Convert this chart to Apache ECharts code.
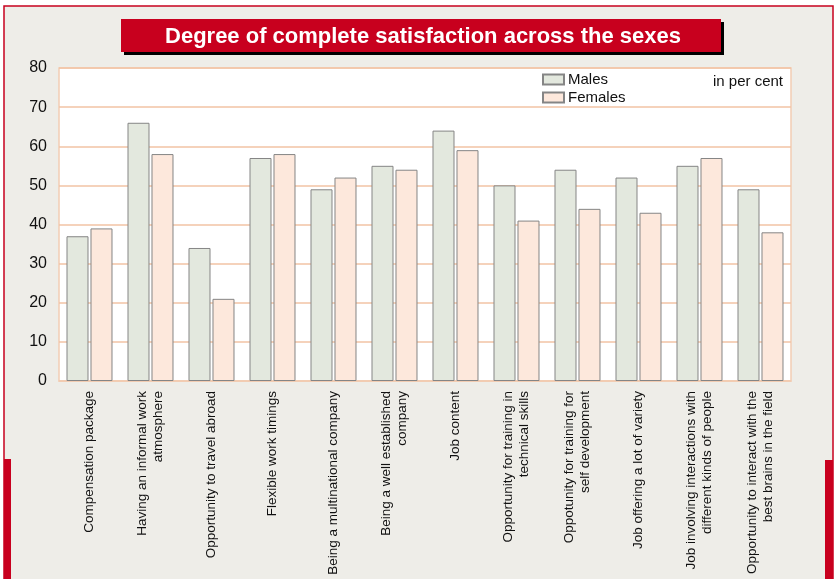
<!DOCTYPE html>
<html><head><meta charset="utf-8">
<script src="https://cdn.jsdelivr.net/npm/echarts@6/dist/echarts.min.js"></script>
<style>html,body{margin:0;padding:0;background:#fff}#c{width:840px;height:579px}</style>
</head><body><div id="c"></div>
<script>
const categories = [
  "Compensation package",
  "Having an informal work\natmosphere",
  "Opportunity to travel abroad",
  "Flexible work timings",
  "Being a multinational company",
  "Being a well established\ncompany",
  "Job content",
  "Opportunity for training in\ntechnical skills",
  "Oppotunity for training for\nself development",
  "Job offering a lot of variety",
  "Job involving interactions with\ndifferent kinds of people",
  "Opportunity to interact with the\nbest brains in the field"
];
const males   = [37, 66, 34, 57, 49, 55, 64, 50, 54, 52, 55, 49];
const females = [39, 58, 21, 58, 52, 54, 59, 41, 44, 43, 57, 38];
const titleText = "Degree of complete satisfaction across the sexes";
const unitText = "in per cent";

const FONT = "'Liberation Sans Narrow','Arial Narrow','Liberation Sans',Arial,sans-serif";
const RED = "#C8001E";
const chart = echarts.init(document.getElementById('c'), null, {renderer: 'canvas'});
chart.setOption({
  backgroundColor: '#fff',
  animation: false,
  graphic: [
    {type: 'rect', z: -10, shape: {x: 4, y: 6, width: 829, height: 580}, style: {fill: '#EEEDE8', stroke: RED, lineWidth: 1.5}},
    {type: 'rect', z: -9, shape: {x: 4, y: 459, width: 7, height: 130}, style: {fill: RED}},
    {type: 'rect', z: -9, shape: {x: 825, y: 460, width: 8, height: 130}, style: {fill: RED}},
    {type: 'rect', z: 1, shape: {x: 124, y: 22, width: 600, height: 33}, style: {fill: '#000'}},
    {type: 'rect', z: 2, shape: {x: 121, y: 19, width: 600, height: 33}, style: {fill: RED}},
    {type: 'text', z: 3, x: 423, y: 37, style: {text: titleText, fill: '#fff', font: "bold 22px " + FONT, align: 'center', verticalAlign: 'middle'}},
    {type: 'text', z: 3, x: 783, y: 82, style: {text: unitText, fill: '#111', font: "15px " + FONT, align: 'right', verticalAlign: 'middle'}}
  ],
  legend: {
    orient: 'vertical', left: 537, top: 67, itemWidth: 21, itemHeight: 10, itemGap: 3,
    icon: 'rect',
    textStyle: {fontFamily: FONT, fontSize: 15, color: '#111', padding: [0, 0, 0, -1]},
    data: ['Males', 'Females']
  },
  grid: {left: 59, right: 49, top: 68, bottom: 198, outerBoundsMode: 'none', containLabel: false,
         show: true, backgroundColor: '#fff', borderColor: '#F2CDB4', borderWidth: 1.5},
  xAxis: {
    type: 'category', data: categories,
    axisLine: {show: true, lineStyle: {color: '#F2CDB4', width: 1.5}},
    axisTick: {show: false},
    axisLabel: {rotate: 90, interval: 0, margin: 10, fontFamily: FONT, fontSize: 13.5, lineHeight: 16, color: '#111'}
  },
  yAxis: {
    type: 'value', min: 0, max: 80, interval: 10,
    axisLine: {show: false}, axisTick: {show: false},
    splitLine: {lineStyle: {color: '#F2C3A5', width: 1.5}},
    axisLabel: {margin: 12, fontFamily: FONT, fontSize: 16, color: '#111'}
  },
  series: [
    {name: 'Males', type: 'bar', data: males, barWidth: 22, barGap: '9%',
     itemStyle: {color: '#E3E8DE', borderColor: '#858585', borderWidth: 1}},
    {name: 'Females', type: 'bar', data: females, barWidth: 22,
     itemStyle: {color: '#FDE8DC', borderColor: '#858585', borderWidth: 1}}
  ]
});
</script></body></html>
